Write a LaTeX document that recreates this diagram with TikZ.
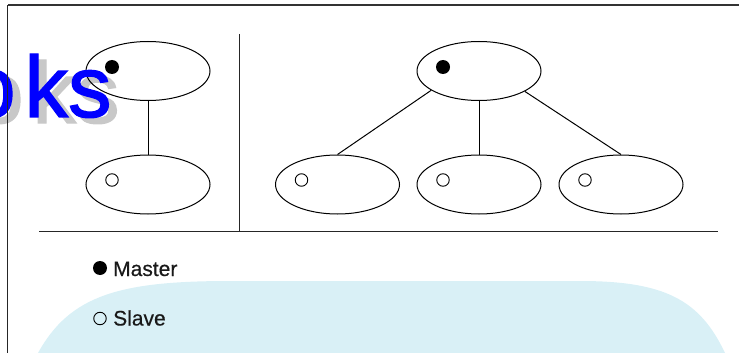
\documentclass[tikz,border=0pt]{standalone}
\usepackage{fontspec}
\setmainfont{Liberation Sans}
\newfontfamily\legendfont[FakeBold=0.4]{Liberation Sans}
\newfontfamily\wmfont[FakeBold=1.5]{Liberation Sans}
\usetikzlibrary{shapes.geometric}
\definecolor{paleblue}{RGB}{217,240,246}
\definecolor{shadowgray}{RGB}{200,200,200}
\definecolor{wmblue}{RGB}{0,0,255}
\definecolor{inkdark}{RGB}{25,25,25}
\tikzset{
  unit/.style={draw=black, line width=1pt, ellipse, minimum width=124pt, minimum height=59pt, inner sep=0pt},
  masterdot/.style={circle, fill=black, minimum size=14pt, inner sep=0pt},
  slavedot/.style={circle, draw=black, line width=0.9pt, minimum size=12.5pt, inner sep=0pt},
  link/.style={draw=black, line width=1pt},
  rule/.style={draw=black!85, line width=1pt},
  frameline/.style={draw=black!80, line width=1.3pt},
  legendtext/.style={anchor=base west, inner sep=0pt, text=inkdark, font=\legendfont\fontsize{21}{24}\selectfont},
  wm/.style={anchor=base west, inner sep=0pt, font=\wmfont\fontsize{87}{87}\selectfont}
}
\begin{document}
\begin{tikzpicture}[x=1pt, y=-1pt]
\useasboundingbox (0,0) rectangle (739,353);
% light blue background shape
\fill[paleblue] (38,353) .. controls (70,295) and (120,281) .. (230,281) -- (580,281)
  .. controls (665,281) and (700,300) .. (725,353) -- cycle;
% watermark shadow
\node[wm, text=shadowgray] (wmshadow) at (-25,123) {o\kern9pt ks};
% left group
\node[unit] (m1) at (148,71) {};
\node[unit] (s1) at (148,184.5) {};
\node[masterdot] (m1d) at (112,67) {};
\node[slavedot] (s1d) at (112,180) {};
\draw[link] (m1) -- (s1);
% right group
\node[unit] (m2) at (479,71) {};
\node[unit] (s2) at (337.5,184.5) {};
\node[unit] (s3) at (479,184.5) {};
\node[unit] (s4) at (621,184.5) {};
\node[masterdot] (m2d) at (443,67) {};
\node[slavedot] (s2d) at (301.5,180) {};
\node[slavedot] (s3d) at (443,180) {};
\node[slavedot] (s4d) at (585,180) {};
\draw[link] (m2.202) -- (s2.north);
\draw[link] (m2) -- (s3);
\draw[link] (m2.336.5) -- (s4.north);
% dividers
\coordinate (vtop) at (239.5,34);
\coordinate (vbot) at (239.5,231.5);
\coordinate (hl) at (39,231.5);
\coordinate (hr) at (718,231.5);
\draw[rule] (vtop) -- (vbot);
\draw[rule] (hl) -- (hr);
% legend
\node[masterdot] (lm) at (100,268) {};
\node[legendtext] (lmt) at (113,276) {Master};
\node[slavedot] (ls) at (100,318.5) {};
\node[legendtext] (lst) at (113,325.5) {Slave};
% watermark
\node[wm, text=wmblue] (wmtext) at (-33,117) {o\kern9pt ks};
% frame
\coordinate (ftl) at (7.5,5);
\coordinate (ftr) at (739,5);
\coordinate (fbl) at (7.5,353);
\draw[frameline] (ftr) -- (ftl);
\draw[draw=black!85, line width=1pt] (ftl) -- (fbl);
\end{tikzpicture}
\end{document}
